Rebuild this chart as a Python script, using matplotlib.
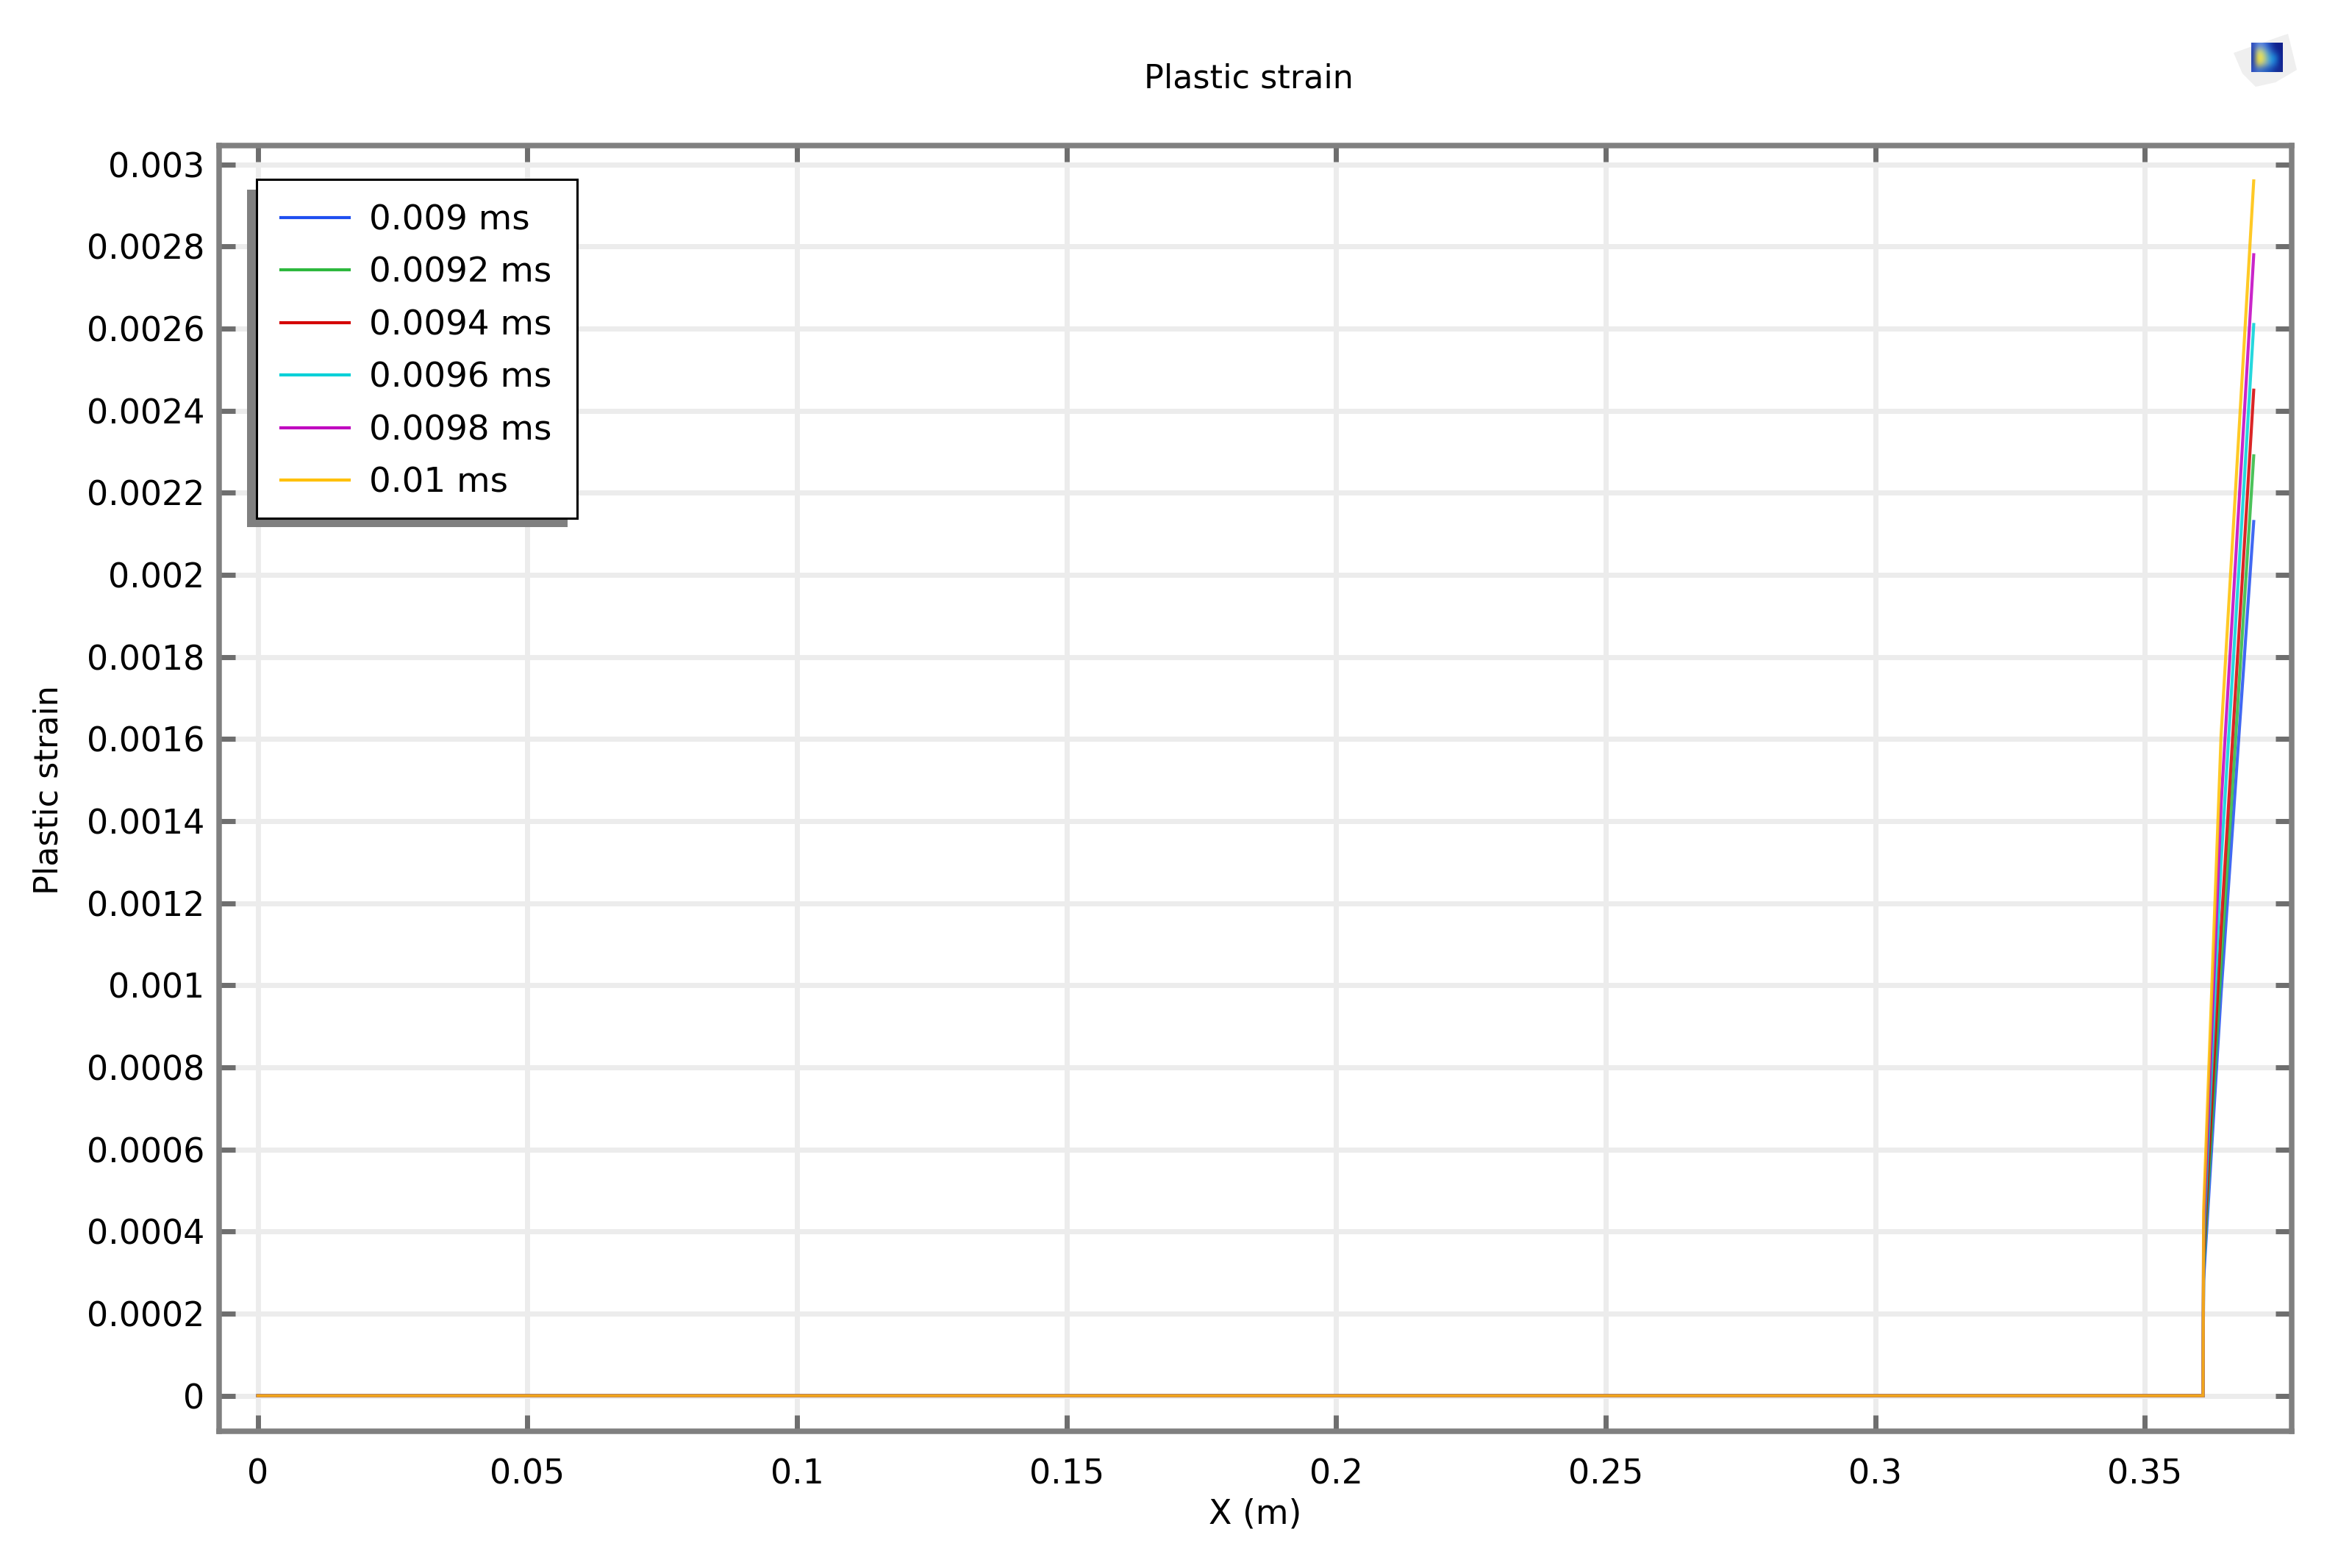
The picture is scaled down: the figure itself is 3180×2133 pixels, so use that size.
import numpy as np
import matplotlib as mpl
import matplotlib.pyplot as plt
from matplotlib.patches import Polygon, Rectangle

mpl.rcParams['font.family'] = 'DejaVu Sans'
mpl.rcParams['font.size'] = 33

# mesh nodes along X (m)
x_nodes = [0, 0.3608, 0.3609, 0.36415, 0.3702]

# plastic strain at the nodes
y_009 = [0, 0, 0.00028, 0.00098, 0.00213]
y_0092 = [0, 0, 0.00031, 0.00105, 0.00229]
y_0094 = [0, 0, 0.00034, 0.00114, 0.00245]
y_0096 = [0, 0, 0.00037, 0.00130, 0.00261]
y_0098 = [0, 0, 0.00041, 0.00144, 0.00278]
y_01 = [0, 0, 0.00045, 0.00161, 0.00296]

series = [y_009, y_0092, y_0094, y_0096, y_0098, y_01]
labels = ['0.009 ms', '0.0092 ms', '0.0094 ms', '0.0096 ms', '0.0098 ms', '0.01 ms']
colors = ['#1f4ff0', '#2db83d', '#d40000', '#00d0d8', '#c000c0', '#ffc000']

xticks = [0, 0.05, 0.1, 0.15, 0.2, 0.25, 0.3, 0.35]
xticklabels = ['0', '0.05', '0.1', '0.15', '0.2', '0.25', '0.3', '0.35']
yticks = [0, 0.0002, 0.0004, 0.0006, 0.0008, 0.001, 0.0012, 0.0014, 0.0016,
          0.0018, 0.002, 0.0022, 0.0024, 0.0026, 0.0028, 0.003]
yticklabels = ['0', '0.0002', '0.0004', '0.0006', '0.0008', '0.001', '0.0012', '0.0014', '0.0016',
               '0.0018', '0.002', '0.0022', '0.0024', '0.0026', '0.0028', '0.003']

W = 3180
H = 2133

fig = plt.figure(figsize=(W / 100, H / 100), dpi=100)
ax = fig.add_axes([298 / W, 1 - 1947 / H, (3117 - 298) / W, (1947 - 198) / H])

for ys, lab, col in zip(series, labels, colors):
    ax.plot(x_nodes, ys, color=col, lw=3, alpha=0.85, label=lab, solid_joinstyle='miter', zorder=3)

ax.set_xlim(-0.00719, 0.37724)
ax.set_ylim(-8.67e-5, 0.003046)
ax.set_xticks(xticks)
ax.set_xticklabels(xticklabels)
ax.set_yticks(yticks)
ax.set_yticklabels(yticklabels)

ax.grid(True, color='#ececec', lw=5)
ax.set_axisbelow(True)
ax.tick_params(axis='x', direction='in', top=True, length=15.8, width=5, color='#6e6e6e', pad=26)
ax.tick_params(axis='y', direction='in', right=True, length=15.8, width=5, color='#6e6e6e', pad=14)
for s in ax.spines.values():
    s.set_color('#808080')
    s.set_linewidth(5.4)

# legend box and its shadow drawn by hand, the built in frame pads unevenly
ax.add_patch(Rectangle((336 / W, 1 - 717 / H), 436 / W, 459 / H, transform=fig.transFigure,
                       facecolor='#808080', edgecolor='none', zorder=4, clip_on=False))
ax.add_patch(Rectangle((348.5 / W, 1 - 705 / H), 436.5 / W, 461 / H, transform=fig.transFigure,
                       facecolor='white', edgecolor='black', lw=2.2, zorder=4.1, clip_on=False))

leg = ax.legend(loc='upper left', bbox_to_anchor=(348.5 / W, 1 - 244 / H), bbox_transform=fig.transFigure,
                borderaxespad=0, fontsize=33.7, frameon=False,
                handlelength=1.99, handletextpad=0.57, labelspacing=0.565, borderpad=0.71)
for h in leg.get_lines():
    h.set_linewidth(3)
    h.set_alpha(1)

fig.text(1698 / W, 1 - 107 / H, 'Plastic strain', ha='center', va='center', fontsize=32)
fig.text(1707 / W, 1 - 2060 / H, 'X (m)', ha='center', va='center', fontsize=33)
fig.text(66 / W, 1 - 1075 / H, 'Plastic strain', ha='center', va='center', rotation=90, fontsize=32)

# little model thumbnail top right
outline = [(3038, 72), (3100, 50), (3112, 46), (3124, 95), (3095, 112), (3068, 118), (3050, 100)]
fig.patches.append(Polygon([(px / W, 1 - py / H) for px, py in outline], closed=True,
                           facecolor='#efefef', edgecolor='none', transform=fig.transFigure))
thumb = ['#3050c0 #5a85e0 #5a85e0 #3060d0 #1a3aa8 #10208c #10208c',
         '#2040b0 #d8dc80 #b8d090 #5aa0d8 #2a60c0 #14309c #10208c',
         '#2040b0 #f8e840 #f0e050 #80b8b0 #20a0e8 #1878d0 #102090',
         '#2040b0 #e8d850 #c8d080 #80b0c0 #3090e0 #1860c0 #102090',
         '#3050c0 #4070d0 #3068c8 #2058c0 #1848b0 #142c98 #182c90']
thumb = np.array([[mpl.colors.to_rgb(c) for c in row.split()] for row in thumb])
iax = fig.add_axes([3062 / W, 1 - 98 / H, 43 / W, 40 / H], zorder=5)
iax.imshow(thumb, interpolation='bicubic', aspect='auto')
iax.axis('off')

fig.savefig('out.png', dpi=100)
